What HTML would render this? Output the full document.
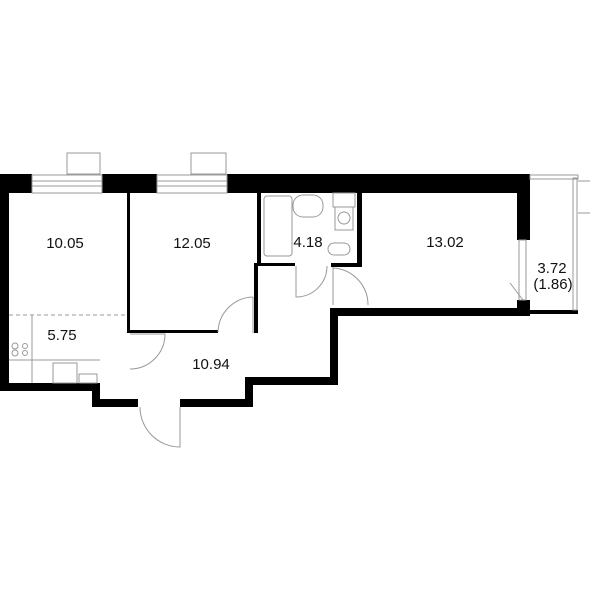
<!DOCTYPE html>
<html><head><style>body{margin:0;background:#fff}svg{display:block}text{font-family:"Liberation Sans",sans-serif;font-size:15px;fill:#111;text-anchor:middle}</style></head>
<body>
<svg width="600" height="600" viewBox="0 0 600 600">
<g fill="#000">
<!-- top wall -->
<rect x="0" y="174" width="32" height="19"/>
<rect x="102" y="174" width="55" height="19"/>
<rect x="227" y="174" width="303" height="19"/>
<!-- left wall -->
<rect x="0" y="174" width="9" height="217"/>
<rect x="0" y="383" width="100" height="8"/>
<rect x="92" y="383" width="8" height="24"/>
<rect x="92" y="399" width="46" height="8"/>
<rect x="180" y="399" width="73" height="8"/>
<rect x="245" y="377" width="8" height="30"/>
<rect x="245" y="377" width="93" height="8"/>
<rect x="330" y="308" width="8" height="77"/>
<rect x="330" y="308" width="200" height="8"/>
<rect x="517" y="174" width="13" height="66"/>
<rect x="517" y="300" width="13" height="16"/>
<!-- interior -->
<rect x="127" y="193" width="3" height="140"/>
<rect x="127" y="330" width="91" height="3"/>
<rect x="254" y="263" width="4" height="70"/>
<rect x="257" y="193" width="4" height="73"/>
<rect x="257" y="263" width="38" height="3"/>
<rect x="331" y="263" width="31" height="4"/>
<rect x="357" y="193" width="5" height="73"/>
<rect x="530" y="310" width="48" height="4"/>
</g>
<g fill="none" stroke="#999" stroke-width="1">
<!-- windows -->
<rect x="32" y="175" width="70" height="18"/><line x1="32" y1="181" x2="102" y2="181"/><line x1="32" y1="186" x2="102" y2="186"/>
<rect x="157" y="175" width="70" height="18"/><line x1="157" y1="181" x2="227" y2="181"/><line x1="157" y1="186" x2="227" y2="186"/>
<rect x="67" y="153" width="33" height="21"/>
<rect x="191" y="153" width="35" height="21"/>
<!-- balcony -->
<rect x="530" y="175" width="48" height="4"/>
<rect x="573" y="178" width="4" height="132"/>
<line x1="578" y1="181" x2="590" y2="181"/><line x1="578" y1="213" x2="590" y2="213"/>
<rect x="519" y="240" width="7" height="60"/>
<line x1="510" y1="283" x2="523" y2="300"/>
<!-- doors -->
<path d="M138 407 L138 407 M180 407 L180 447 A40 40 0 0 1 140 407"/>
<path d="M130 334 L165 334 A35 35 0 0 1 130 369"/>
<path d="M253 297 L253 333 M218 332 A36 36 0 0 1 253 297"/>
<path d="M296 266 L296 297 A31 31 0 0 0 327 266"/>
<path d="M333 267 L333 305 M333 268 A37 37 0 0 1 368 305"/>
<!-- kitchen -->
<line x1="9" y1="315" x2="127" y2="315" stroke-dasharray="4,3"/>
<line x1="32" y1="315" x2="32" y2="383"/>
<line x1="9" y1="360" x2="100" y2="360"/>
<rect x="53" y="363" width="24" height="20"/>
<rect x="79" y="374" width="18" height="9"/>
<circle cx="15" cy="346" r="3"/><circle cx="15" cy="353" r="3"/><circle cx="25" cy="346" r="2.5"/><circle cx="25" cy="353" r="2.5"/>
<!-- bathroom -->
<rect x="264" y="196" width="28" height="60" rx="3"/>
<rect x="293" y="195" width="30" height="22" rx="10"/>
<rect x="333" y="193" width="22" height="14"/>
<rect x="335" y="207" width="18" height="23"/>
<circle cx="344" cy="218" r="6"/>
<rect x="328" y="243" width="22" height="12" rx="6"/>
</g>
<text x="65" y="248">10.05</text>
<text x="192" y="248">12.05</text>
<text x="308" y="247">4.18</text>
<text x="445" y="247">13.02</text>
<text x="62" y="340">5.75</text>
<text x="211" y="369">10.94</text>
<text x="552" y="273">3.72</text>
<text x="553" y="289">(1.86)</text>
</svg>
</body></html>
